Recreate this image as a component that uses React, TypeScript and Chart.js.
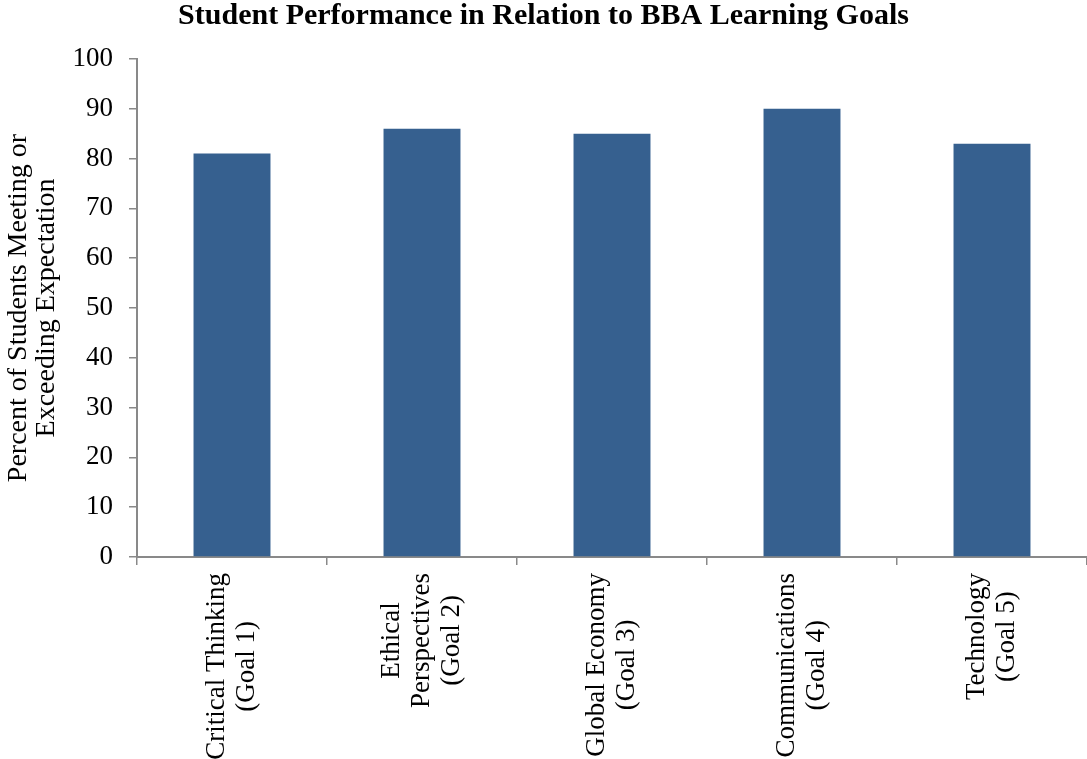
import React, { useEffect, useRef } from "react";
import { Chart, registerables } from "chart.js";

Chart.register(...registerables);

const chartTitle = "Student Performance in Relation to BBA Learning Goals";
const yAxisTitle = ["Percent of Students Meeting or", "Exceeding Expectation"];
const categories: string[][] = [
  ["Critical Thinking", "(Goal 1)"],
  ["Ethical", "Perspectives", "(Goal 2)"],
  ["Global Economy", "(Goal 3)"],
  ["Communications", "(Goal 4)"],
  ["Technology", "(Goal 5)"],
];
const values = [81, 86, 85, 90, 83];
const yMin = 0;
const yMax = 100;
const yStep = 10;

const FONT = '"Liberation Serif", "Times New Roman", serif';
const AXIS_COLOR = "#898989";
const BAR_COLOR = "#36608F";

const xLabelPlugin = {
  id: "xLabelPlugin",
  afterDraw(chart: any) {
    const { ctx, chartArea } = chart;
    const xScale = chart.scales.x;
    const fontSize = 27;
    const lh = 30;
    ctx.save();
    ctx.font = `${fontSize}px ${FONT}`;
    ctx.fillStyle = "#000";
    ctx.textAlign = "center";
    ctx.textBaseline = "middle";
    categories.forEach((lines, i) => {
      const x = xScale.getPixelForValue(i);
      const yTop = chartArea.bottom + 16;
      const maxW = Math.max(...lines.map((l) => ctx.measureText(l).width));
      ctx.save();
      ctx.translate(x, yTop);
      ctx.rotate(-Math.PI / 2);
      lines.forEach((line, k) => {
        const dy = (k - (lines.length - 1) / 2) * lh;
        ctx.fillText(line, -maxW / 2, dy);
      });
      ctx.restore();
    });
    ctx.restore();
  },
};

export default function App() {
  const canvasRef = useRef<HTMLCanvasElement>(null);

  useEffect(() => {
    if (!canvasRef.current) return;
    const chart = new Chart(canvasRef.current, {
      type: "bar",
      data: {
        labels: categories.map((c) => c.join(" ")),
        datasets: [
          {
            data: values,
            backgroundColor: BAR_COLOR,
            borderWidth: 0,
            barPercentage: 0.405,
            categoryPercentage: 1,
          },
        ],
      },
      options: {
        responsive: true,
        maintainAspectRatio: false,
        animation: false,
        layout: { padding: { top: 0, left: 0, right: 0, bottom: 0 } },
        plugins: {
          legend: { display: false },
          tooltip: { enabled: false },
          title: {
            display: true,
            text: chartTitle,
            color: "#000",
            font: { family: FONT, size: 30, weight: "bold", lineHeight: 1.1 },
            padding: { top: 0, bottom: 26 },
          },
        },
        scales: {
          x: {
            offset: true,
            ticks: { display: false },
            grid: {
              display: true,
              offset: true,
              drawOnChartArea: false,
              drawTicks: true,
              tickLength: 8,
              color: AXIS_COLOR,
              lineWidth: 1.5,
            },
            border: { display: true, color: AXIS_COLOR, width: 2 },
            afterFit: (scale: any) => {
              scale.height = 202;
            },
          },
          y: {
            min: yMin,
            max: yMax,
            ticks: {
              stepSize: yStep,
              color: "#000",
              padding: 16,
              font: { family: FONT, size: 27 },
            },
            grid: {
              display: true,
              drawOnChartArea: false,
              drawTicks: true,
              tickLength: 8,
              color: AXIS_COLOR,
              lineWidth: 1.5,
            },
            border: { display: true, color: AXIS_COLOR, width: 2 },
            title: {
              display: true,
              text: yAxisTitle,
              color: "#000",
              font: { family: FONT, size: 28, lineHeight: 1.0 },
              padding: { top: 5, bottom: 0 },
            },
            afterFit: (scale: any) => {
              scale.width = 137;
            },
          },
        },
      },
      plugins: [xLabelPlugin],
    });
    return () => chart.destroy();
  }, []);

  return (
    <div style={{ position: "fixed", left: 0, top: 0, width: 1087, height: 759, background: "#fff" }}>
      <canvas ref={canvasRef} />
    </div>
  );
}
